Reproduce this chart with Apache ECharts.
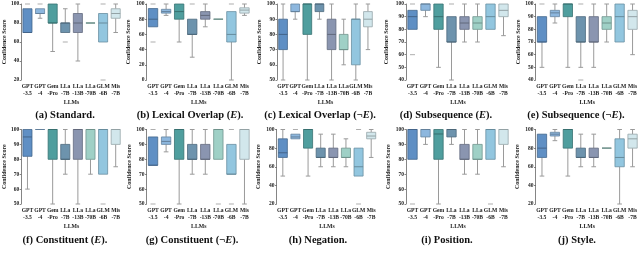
<!DOCTYPE html>
<html><head><meta charset="utf-8">
<script src="https://cdn.jsdelivr.net/npm/echarts@6/dist/echarts.min.js"></script>
<style>html,body{margin:0;padding:0;background:#fff}#c{width:640px;height:258px}</style>
</head><body><div id="c"></div>
<script>
// ---------- data ----------
const categories = ['GPT\n-3.5','GPT\n-4','Gem\n-Pro','LLa\n-7B','LLa\n-13B','LLa\n-70B','GLM\n-6B','Mis\n-7B'];
const boxColors = ['#5f8fc4','#8db7de','#4f9e9e','#6d93ad','#8a95b0','#9fd0c6','#92c6df','#d2e7ec'];

// each row: [min, q1, median, q3, max] per model
const standardBoxes = [[70,70,70,95,95],[85,90,90,95,95],[50,80,80,100,100],[70,70,80,80,95],[40,70,80,90,100],[80,80,80,80,80],[60,60,80,90,90],[70,85,90,95,100]];
const standardFliers = [[0,100],[1,100],[3,60],[6,100],[6,20]];
const lexEBoxes = [[70,70,80,94,94],[85,88,90,93,100],[50,80,90,100,100],[30,60,60,80,80],[70,80,85,90,100],[80,80,80,80,80],[0,50,60,90,90],[85,88,92,95,100]];
const lexEFliers = [[0,100],[0,50],[3,100],[6,100]];
const lexNBoxes = [[50,70,80,90,100],[90,95,95,100,100],[50,80,100,100,100],[90,95,100,100,100],[50,70,80,90,100],[60,70,70,80,90],[50,60,90,90,100],[70,85,90,95,100]];
const lexNFliers = [];
const subEBoxes = [[80,80,90,95,95],[90,95,100,100,100],[50,80,90,100,100],[40,70,70,90,90],[70,80,85,90,100],[70,80,85,90,100],[80,80,90,100,100],[75,90,95,100,100]];
const subEFliers = [[0,100],[0,60],[3,100]];
const subNBoxes = [[50,70,70,90,90],[85,90,93,95,100],[50,90,100,100,100],[50,70,70,90,90],[50,70,70,90,100],[70,80,85,90,100],[70,70,90,100,100],[60,80,90,95,100]];
const subNFliers = [[0,100],[3,100],[3,40]];
const conEBoxes = [[60,82,95,100,100],[100,100,100,100,100],[50,80,100,100,100],[70,80,80,90,100],[50,80,100,100,100],[70,80,100,100,100],[70,70,100,100,100],[75,90,100,100,100]];
const conEFliers = [[6,50]];
const conNBoxes = [[76,76,76,95,95],[85,90,92,95,100],[50,80,100,100,100],[70,80,80,90,100],[70,80,80,90,100],[80,80,100,100,100],[70,70,70,90,90],[50,80,100,100,100]];
const conNFliers = [[0,100],[0,50],[5,50],[6,100],[6,50]];
const negBoxes = [[50,70,75,90,100],[90,90,92,95,95],[50,80,100,100,100],[60,70,70,80,95],[60,70,70,80,95],[60,70,70,80,90],[50,50,60,80,80],[70,90,93,97,100]];
const negFliers = [[1,100],[6,100],[6,20]];
const posBoxes = [[80,80,100,100,100],[90,95,100,100,100],[50,80,97,100,100],[90,95,100,100,100],[70,80,80,90,100],[70,80,80,90,100],[80,80,100,100,100],[75,90,100,100,100]];
const posFliers = [[0,50],[6,50]];
const styleBoxes = [[50,70,80,95,95],[88,93,95,97,100],[50,80,100,100,100],[60,70,70,80,95],[60,70,70,80,95],[80,80,80,80,80],[20,60,70,90,100],[60,80,90,95,100]];
const styleFliers = [];

const panelBoxes = [standardBoxes, lexEBoxes, lexNBoxes, subEBoxes, subNBoxes, conEBoxes, conNBoxes, negBoxes, posBoxes, styleBoxes];
const panelFliers = [standardFliers, lexEFliers, lexNFliers, subEFliers, subNFliers, conEFliers, conNFliers, negFliers, posFliers, styleFliers];
const yMins = [20, 0, 50, 40, 40, 50, 50, 20, 50, 20];
const yMaxs = [100, 100, 100, 100, 100, 100, 100, 100, 100, 100];
const yIntervals = [20, 20, 10, 10, 10, 10, 10, 20, 10, 20];
const captionLetters = ['(a)','(b)','(c)','(d)','(e)','(f)','(g)','(h)','(i)','(j)'];
const captionTexts = ['Standard.','Lexical Overlap ({i|E}).','Lexical Overlap (¬{i|E}).','Subsequence ({i|E}).','Subsequence (¬{i|E}).','Constituent ({i|E}).','Constituent (¬{i|E}).','Negation.','Position.','Style.'];

// ---------- layout ----------
const gridLefts = [17.5, 146.5, 277, 406, 535.5, 17.5, 146.5, 276.5, 406, 535.5];
const gridWidths = [104.5, 104.5, 97, 104, 104.5, 104.5, 104.5, 101, 104, 104.5];
const rowTops = [4, 129.5];
const rowHeights = [76, 74.5];
const nameGaps = [12, 15, 15, 17, 13, 12, 14.5, 15, 14, 15.5];
const captionCenters = [65, 190, 320, 446, 576, 65, 192, 318, 447, 577];
const captionY = [115, 240];

const FONT = '"Liberation Serif","DejaVu Serif",serif';

function darken(hex, f) {
  const n = parseInt(hex.slice(1), 16);
  const r = Math.round(((n >> 16) & 255) * f), g = Math.round(((n >> 8) & 255) * f), b = Math.round((n & 255) * f);
  return 'rgb(' + r + ',' + g + ',' + b + ')';
}

function renderBox(params, api) {
  const x = api.value(0);
  const pMin = api.coord([x, api.value(1)]);
  const pQ1 = api.coord([x, api.value(2)]);
  const pMed = api.coord([x, api.value(3)]);
  const pQ3 = api.coord([x, api.value(4)]);
  const pMax = api.coord([x, api.value(5)]);
  const bw = api.size([1, 0])[0] * 0.72;
  const cx = pMed[0];
  const col = boxColors[x];
  const wc = '#9a9a9a';
  const ch = [];
  if (pMin[1] - pQ1[1] > 0.1) {
    ch.push({type: 'line', shape: {x1: cx, y1: pQ1[1], x2: cx, y2: pMin[1]}, style: {stroke: wc, lineWidth: 1}});
    ch.push({type: 'line', shape: {x1: cx - bw / 4, y1: pMin[1], x2: cx + bw / 4, y2: pMin[1]}, style: {stroke: wc, lineWidth: 1}});
  }
  if (pQ3[1] - pMax[1] > 0.1) {
    ch.push({type: 'line', shape: {x1: cx, y1: pMax[1], x2: cx, y2: pQ3[1]}, style: {stroke: wc, lineWidth: 1}});
    ch.push({type: 'line', shape: {x1: cx - bw / 4, y1: pMax[1], x2: cx + bw / 4, y2: pMax[1]}, style: {stroke: wc, lineWidth: 1}});
  }
  ch.push({type: 'rect', shape: {x: cx - bw / 2, y: pQ3[1], width: bw, height: pQ1[1] - pQ3[1]},
    style: {fill: col, stroke: darken(col, 0.72), lineWidth: 0.8}});
  ch.push({type: 'line', shape: {x1: cx - bw / 2, y1: pMed[1], x2: cx + bw / 2, y2: pMed[1]},
    style: {stroke: darken(col, 0.7), lineWidth: 1}});
  return {type: 'group', children: ch};
}

const grids = [], xAxes = [], yAxes = [], series = [], graphics = [];
for (let p = 0; p < 10; p++) {
  const row = p < 5 ? 0 : 1;
  grids.push({left: gridLefts[p], top: rowTops[row], width: gridWidths[p], height: rowHeights[row]});
  xAxes.push({
    type: 'category', gridIndex: p, data: categories,
    name: 'LLMs', nameLocation: 'middle', nameGap: 20,
    nameTextStyle: {fontFamily: FONT, fontSize: 5.8, fontWeight: 'bold', color: '#222'},
    axisLine: {show: false}, axisTick: {show: false},
    axisLabel: {interval: 0, fontFamily: FONT, fontSize: 5.6, fontWeight: 'bold', color: '#222', lineHeight: 7, margin: 3}
  });
  yAxes.push({
    type: 'value', gridIndex: p, min: yMins[p], max: yMaxs[p], interval: yIntervals[p],
    name: 'Confidence Score', nameLocation: 'middle', nameGap: nameGaps[p],
    nameTextStyle: {fontFamily: FONT, fontSize: 6, fontWeight: 'bold', color: '#222'},
    axisLine: {show: true, lineStyle: {color: '#333', width: 0.6}},
    axisTick: {show: true, length: 1.5, lineStyle: {color: '#333', width: 0.6}},
    axisLabel: {fontFamily: FONT, fontSize: 5.5, fontWeight: 'bold', color: '#222', margin: 2},
    splitLine: {show: false}
  });
  series.push({
    type: 'custom', xAxisIndex: p, yAxisIndex: p, renderItem: renderBox,
    encode: {x: 0, y: [1, 2, 3, 4, 5]},
    data: panelBoxes[p].map((b, i) => [i].concat(b))
  });
  series.push({
    type: 'scatter', xAxisIndex: p, yAxisIndex: p, symbol: 'rect', symbolSize: [5, 1],
    itemStyle: {color: '#9a9a9a'}, data: panelFliers[p], z: 3
  });
  graphics.push({
    type: 'text', x: captionCenters[p], y: captionY[row],
    style: {
      text: captionLetters[p] + ' ' + captionTexts[p],
      x: 0, y: 0, align: 'center', verticalAlign: 'middle',
      font: 'bold 10.5px ' + FONT, fill: '#111',
      rich: {i: {fontStyle: 'italic', fontWeight: 'bold', fontSize: 10.5, fontFamily: FONT, fill: '#111'}}
    }
  });
}

const chart = echarts.init(document.getElementById('c'), null, {renderer: 'canvas'});
chart.setOption({
  animation: false,
  backgroundColor: '#fff',
  grid: grids, xAxis: xAxes, yAxis: yAxes, series: series,
  graphic: graphics
});
</script></body></html>
